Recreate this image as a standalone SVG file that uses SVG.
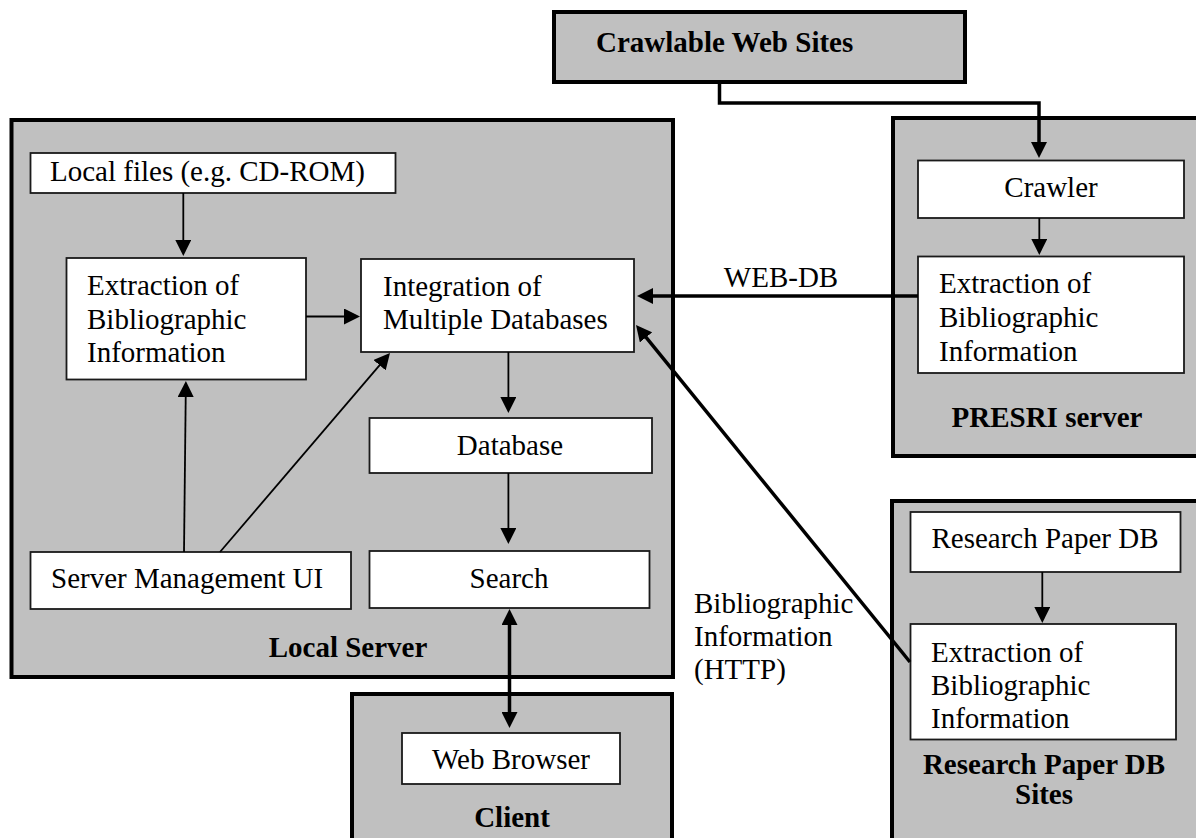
<svg xmlns="http://www.w3.org/2000/svg" width="1196" height="838" viewBox="0 0 1196 838">
  <style>
    .zone { fill: #c0c0c0; stroke: #000; stroke-width: 4; }
    .box { fill: #fff; stroke: #1a1a1a; stroke-width: 1.8; }
    text { font-family: "Liberation Serif", "Times New Roman", serif; font-size: 29px; fill: #000; }
    .title { font-weight: bold; }
    .mid { text-anchor: middle; }
    .thin { fill: none; stroke: #000; stroke-width: 1.8; }
    .thick { fill: none; stroke: #000; stroke-width: 3.5; }
  </style>
  <defs>
    <marker id="head" viewBox="0 0 16 16" refX="8" refY="8" markerWidth="16" markerHeight="16" markerUnits="userSpaceOnUse" orient="auto-start-reverse">
      <path d="M0,0 L16,8 L0,16 z" fill="#000"/>
    </marker>
  </defs>

  <rect width="1196" height="838" fill="#fff"/>

  <!-- Containers -->
  <g id="crawlable-sites">
    <rect class="zone" x="554" y="12" width="411" height="70"/>
    <text class="title" x="596" y="52">Crawlable Web Sites</text>
  </g>

  <g id="local-server">
    <rect class="zone" x="11.5" y="120" width="661.5" height="557"/>
    <text class="title mid" x="348" y="657">Local Server</text>
  </g>

  <g id="presri-server">
    <rect class="zone" x="893" y="118" width="320" height="338"/>
    <text class="title mid" x="1047" y="427">PRESRI server</text>
  </g>

  <g id="paper-db-sites">
    <rect class="zone" x="892" y="501" width="320" height="360"/>
    <text class="title mid" x="1044" y="774">Research Paper DB</text>
    <text class="title mid" x="1044" y="804">Sites</text>
  </g>

  <g id="client">
    <rect class="zone" x="352" y="694" width="320" height="170"/>
    <text class="title mid" x="512" y="827">Client</text>
  </g>

  <!-- Local server components -->
  <g id="local-files">
    <rect class="box" x="30.5" y="153" width="365" height="40"/>
    <text x="50" y="181">Local files (e.g. CD-ROM)</text>
  </g>

  <g id="local-extraction">
    <rect class="box" x="66.5" y="258" width="239.5" height="121.5"/>
    <text x="87" y="295">Extraction of</text>
    <text x="87" y="328.5">Bibliographic</text>
    <text x="87" y="362">Information</text>
  </g>

  <g id="integration">
    <rect class="box" x="361" y="259" width="273" height="93"/>
    <text x="383" y="296">Integration of</text>
    <text x="383" y="329">Multiple Databases</text>
  </g>

  <g id="database">
    <rect class="box" x="369.5" y="418" width="282.5" height="55"/>
    <text class="mid" x="510" y="455">Database</text>
  </g>

  <g id="search">
    <rect class="box" x="369.5" y="551" width="280" height="57"/>
    <text class="mid" x="509" y="588">Search</text>
  </g>

  <g id="management-ui">
    <rect class="box" x="30.5" y="552" width="320.5" height="57"/>
    <text x="51" y="588">Server Management UI</text>
  </g>

  <!-- Client component -->
  <g id="web-browser">
    <rect class="box" x="402" y="733" width="218" height="51"/>
    <text class="mid" x="511" y="769">Web Browser</text>
  </g>

  <!-- PRESRI components -->
  <g id="crawler">
    <rect class="box" x="918" y="160.5" width="266" height="57.5"/>
    <text class="mid" x="1051" y="197">Crawler</text>
  </g>

  <g id="presri-extraction">
    <rect class="box" x="918" y="256.5" width="266" height="116.5"/>
    <text x="939" y="293">Extraction of</text>
    <text x="939" y="326.5">Bibliographic</text>
    <text x="939" y="361">Information</text>
  </g>

  <!-- Research paper DB components -->
  <g id="paper-db">
    <rect class="box" x="910.5" y="512" width="270" height="60"/>
    <text class="mid" x="1045" y="548">Research Paper DB</text>
  </g>

  <g id="paper-extraction">
    <rect class="box" x="910.5" y="624" width="265.5" height="115.5"/>
    <text x="931" y="662">Extraction of</text>
    <text x="931" y="695">Bibliographic</text>
    <text x="931" y="728">Information</text>
  </g>

  <!-- Connectors -->
  <g id="connectors">
    <path class="thin" d="M183.3,193 V248" marker-end="url(#head)"/>
    <path class="thin" d="M306,316.5 H352" marker-end="url(#head)"/>
    <path class="thin" d="M184,552 L185.8,389" marker-end="url(#head)"/>
    <path class="thin" d="M220,552 L384.8,359.1" marker-end="url(#head)"/>
    <path class="thin" d="M508.4,352 V405" marker-end="url(#head)"/>
    <path class="thin" d="M508.4,473 V536" marker-end="url(#head)"/>
    <path class="thick" d="M509.5,617 V720" marker-start="url(#head)" marker-end="url(#head)"/>

    <path class="thick" d="M719.5,82 V103 H1039 V150" marker-end="url(#head)"/>
    <path class="thin" d="M1039.3,218 V247" marker-end="url(#head)"/>
    <path class="thick" d="M918,296 H645" marker-end="url(#head)"/>
    <text class="mid" x="781" y="287">WEB-DB</text>

    <path class="thin" d="M1042.3,572 V615" marker-end="url(#head)"/>
    <path class="thick" d="M910,662 L641.05,331.2" marker-end="url(#head)"/>
    <text x="694" y="613">Bibliographic</text>
    <text x="694" y="646">Information</text>
    <text x="694" y="679">(HTTP)</text>
  </g>
</svg>
